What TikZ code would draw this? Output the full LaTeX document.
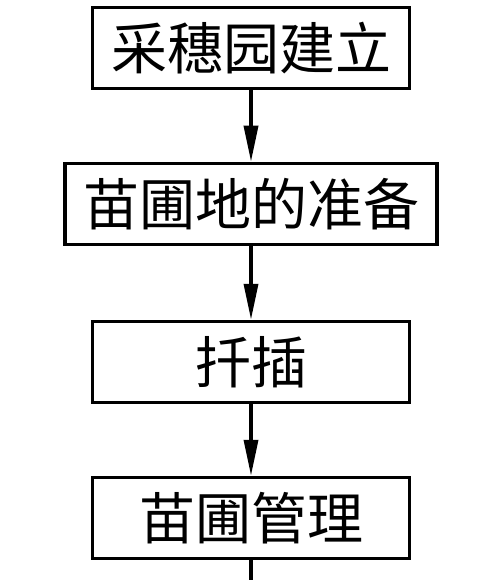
\documentclass[tikz,border=0pt]{standalone}
\usepackage{fontspec}
\newfontfamily\cjk{Noto Sans CJK SC}
\usetikzlibrary{arrows.meta}

\begin{document}
\begin{tikzpicture}[x=1pt,y=-1pt,
    stepbox/.style={draw,line width=3.5pt,minimum height=81pt,inner sep=0pt,font=\cjk\fontsize{56}{60}\selectfont},
    flow/.style={line width=3.5pt,-{Triangle[length=36pt,width=14pt]}}]

    % page frame
    \useasboundingbox (0,0) rectangle (500,580);

    % draw boxes
    \node[stepbox,minimum width=317pt] (jianli) at (251,48) {采穗园建立};
    \node[stepbox,minimum width=372pt] (zhunbei) at (251,204) {苗圃地的准备};
    \node[stepbox,minimum width=317pt] (qiancha) at (251,362) {扦插};
    \node[stepbox,minimum width=317pt] (guanli) at (251,518) {苗圃管理};
    \coordinate (end) at (251,580);

    % draw arrows
    \draw[flow] (jianli) -- (zhunbei);
    \draw[flow] (zhunbei) -- (qiancha);
    \draw[flow] (qiancha) -- (guanli);
    \draw[line width=3.5pt] (guanli) -- (end);

\end{tikzpicture}
\end{document}
